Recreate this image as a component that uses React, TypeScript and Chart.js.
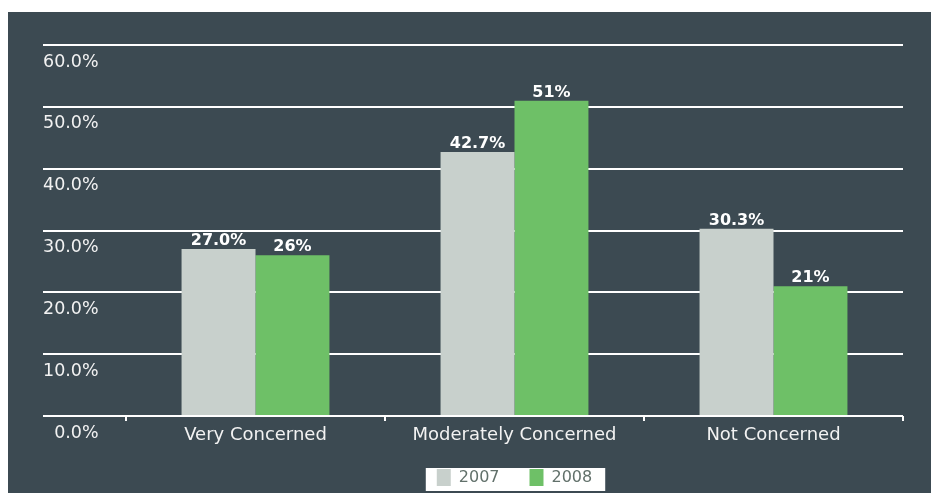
import React, { useEffect, useRef } from "react";
import { Chart, registerables } from "chart.js";

Chart.register(...registerables);

const categories = ["Very Concerned", "Moderately Concerned", "Not Concerned"];
const seriesNames = ["2007", "2008"];
const values2007 = [27.0, 42.7, 30.3];
const values2008 = [26, 51, 21];
const labels2007 = ["27.0%", "42.7%", "30.3%"];
const labels2008 = ["26%", "51%", "21%"];
const yMin = 0;
const yMax = 60;
const yStep = 10;

const BG = "#3c4a52";
const GRAY = "#c8d0cc";
const GREEN = "#6ec067";
const FONT = "'DejaVu Sans', sans-serif";

const valueLabelPlugin = {
  id: "valueLabels",
  afterDatasetsDraw(chart: any) {
    const ctx = chart.ctx;
    const all = [labels2007, labels2008];
    ctx.save();
    ctx.font = `bold 16px ${FONT}`;
    ctx.fillStyle = "#ffffff";
    ctx.textAlign = "center";
    ctx.textBaseline = "alphabetic";
    chart.data.datasets.forEach((ds: any, di: number) => {
      const meta = chart.getDatasetMeta(di);
      meta.data.forEach((el: any, i: number) => {
        ctx.fillText(all[di][i], el.x, el.y - 4);
      });
    });
    ctx.restore();
  },
};

// let the x-axis labels draw below the (tight) axis box without being clipped
const axisRoomPlugin = {
  id: "axisRoom",
  afterLayout(chart: any) {
    const x = chart.scales.x;
    if (x) {
      x.bottom = x.top + 45;
      x.height = 45;
    }
  },
};

const legendBgPlugin = {
  id: "legendBg",
  beforeDraw(chart: any) {
    const lg = chart.legend;
    if (!lg || !lg.legendHitBoxes || !lg.legendHitBoxes.length) return;
    const hb = lg.legendHitBoxes;
    let minL = Infinity;
    let maxR = -Infinity;
    hb.forEach((h: any) => {
      minL = Math.min(minL, h.left);
      maxR = Math.max(maxR, h.left + h.width);
    });
    const top = hb[0].top;
    const ctx = chart.ctx;
    ctx.save();
    ctx.fillStyle = "#ffffff";
    ctx.fillRect(minL - 11, top - 1, maxR - minL + 24, 23);
    ctx.restore();
  },
};

export default function App() {
  const ref = useRef<HTMLCanvasElement | null>(null);

  useEffect(() => {
    if (!ref.current) return;
    const chart = new Chart(ref.current, {
      type: "bar",
      data: {
        labels: categories,
        datasets: [
          {
            label: seriesNames[0],
            data: values2007,
            backgroundColor: GRAY,
            borderWidth: 0,
            categoryPercentage: 0.571,
            barPercentage: 1,
          },
          {
            label: seriesNames[1],
            data: values2008,
            backgroundColor: GREEN,
            borderWidth: 0,
            categoryPercentage: 0.571,
            barPercentage: 1,
          },
        ],
      },
      options: {
        animation: false,
        responsive: false,
        layout: { padding: { left: 35, right: 28, top: 33, bottom: 0 } },
        plugins: {
          tooltip: { enabled: false },
          legend: {
            position: "bottom",
            fullSize: false,
            maxHeight: 54,
            labels: {
              boxWidth: 14,
              boxHeight: 17,
              padding: 30,
              color: "#62716b",
              font: { family: FONT, size: 16 },
            },
          },
        },
        scales: {
          x: {
            grid: {
              display: true,
              offset: true,
              drawOnChartArea: false,
              drawTicks: true,
              tickLength: 5,
              color: "#ffffff",
              lineWidth: 2,
            },
            border: { display: false },
            ticks: {
              color: "#f2f2f2",
              padding: 4,
              font: { family: FONT, size: 18 },
            },
            afterFit: (s: any) => {
              s.height = 23;
            },
          },
          y: {
            min: yMin,
            max: yMax,
            grid: {
              color: "#ffffff",
              lineWidth: 2,
              drawTicks: true,
              tickLength: 83,
            },
            border: { display: false },
            ticks: {
              stepSize: yStep,
              crossAlign: "far",
              labelOffset: 17,
              color: "#f2f2f2",
              font: { family: FONT, size: 17.5 },
              callback: (v: any) =>
                (Number(v) === 0 ? "  " : "") + Number(v).toFixed(1) + "%",
            },
            afterFit: (s: any) => {
              s.width = 83;
            },
          },
        },
      },
      plugins: [axisRoomPlugin, legendBgPlugin, valueLabelPlugin],
    } as any);
    return () => chart.destroy();
  }, []);

  return (
    <div
      style={{
        position: "absolute",
        left: 8,
        top: 12,
        width: 923,
        height: 481,
        background: BG,
        overflow: "hidden",
      }}
    >
      <canvas ref={ref} width={923} height={481} style={{ display: "block" }} />
    </div>
  );
}
